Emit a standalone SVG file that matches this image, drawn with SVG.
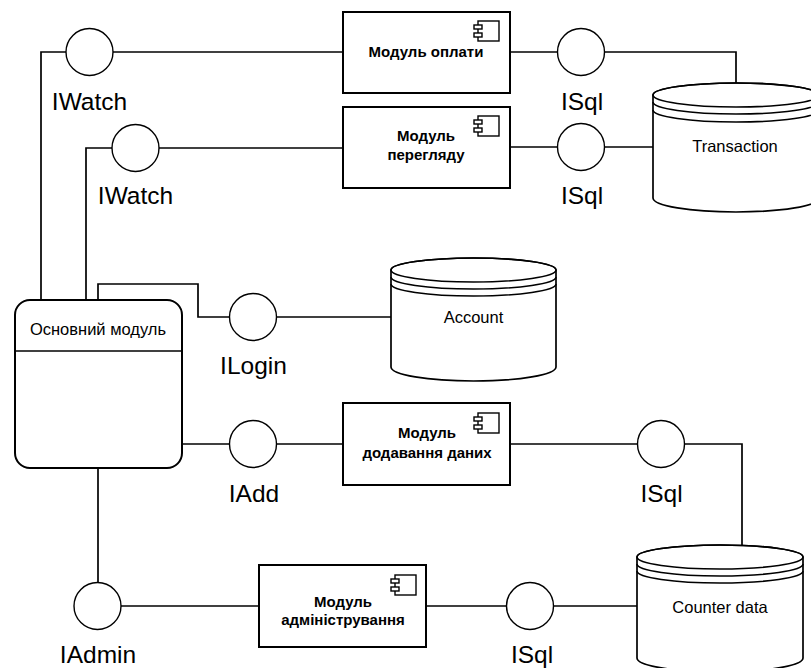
<svg xmlns="http://www.w3.org/2000/svg" width="811" height="668" viewBox="0 0 811 668">
<defs>
<style>
.ln{fill:none;stroke:#000;stroke-width:1.7}
.ci{fill:#fff;stroke:#000;stroke-width:1.4}
.box{fill:#fff;stroke:#000;stroke-width:2}
.cyl{fill:#fff;stroke:#000;stroke-width:1.7}
.arc{fill:none;stroke:#000;stroke-width:1.6}
.lbl{font-family:"Liberation Sans",Arial,sans-serif;font-size:24.5px;fill:#000;text-anchor:middle}
.bt{font-family:"Liberation Sans",Arial,sans-serif;font-size:15px;font-weight:bold;fill:#000;text-anchor:middle}
.nt{font-family:"Liberation Sans",Arial,sans-serif;font-size:16.5px;fill:#000;text-anchor:middle}
.ic{fill:#fff;stroke:#000;stroke-width:1.4}
</style>
<g id="icon">
<rect class="ic" x="4" y="0" width="21" height="20"/>
<rect class="ic" x="0" y="4" width="8" height="4"/>
<rect class="ic" x="0" y="12" width="8" height="4"/>
</g>
</defs>
<rect width="811" height="668" fill="#fff"/>

<g id="connectors">
<polyline class="ln" points="41,300 41,52 66,52"/>
<line class="ln" x1="113" y1="52" x2="343" y2="52"/>
<polyline class="ln" points="86,300 86,148 112,148"/>
<line class="ln" x1="159" y1="148" x2="343" y2="148"/>
<line class="ln" x1="510" y1="52" x2="558" y2="52"/>
<polyline class="ln" points="604,52 736,52 736,84"/>
<line class="ln" x1="510" y1="147" x2="558" y2="147"/>
<line class="ln" x1="604" y1="147" x2="653" y2="147"/>
<polyline class="ln" points="98,300 98,284 198,284 198,317 230,317"/>
<line class="ln" x1="276" y1="317" x2="391" y2="317"/>
<line class="ln" x1="182" y1="444" x2="230" y2="444"/>
<line class="ln" x1="276" y1="444" x2="343" y2="444"/>
<line class="ln" x1="510" y1="444" x2="638" y2="444"/>
<polyline class="ln" points="684,444 742,444 742,546"/>
<line class="ln" x1="98" y1="468" x2="98" y2="583"/>
<line class="ln" x1="121" y1="606" x2="259" y2="606"/>
<line class="ln" x1="426" y1="606" x2="507" y2="606"/>
<line class="ln" x1="553" y1="606" x2="637" y2="606"/>
</g>

<g id="main-module">
<rect class="box" x="15" y="300" width="167" height="168" rx="15" ry="15"/>
<line class="ln" x1="15" y1="351" x2="182" y2="351" stroke-width="2"/>
<text class="nt" x="98" y="335">Основний модуль</text>
</g>

<g id="iwatch1">
<circle class="ci" cx="89.5" cy="52" r="23.5"/>
<text class="lbl" x="89.5" y="110">IWatch</text>
</g>
<g id="iwatch2">
<circle class="ci" cx="135.5" cy="148" r="23.5"/>
<text class="lbl" x="135.5" y="204">IWatch</text>
</g>
<g id="isql1">
<circle class="ci" cx="581" cy="52" r="23.5"/>
<text class="lbl" x="582" y="110">ISql</text>
</g>
<g id="isql2">
<circle class="ci" cx="581" cy="147" r="23.5"/>
<text class="lbl" x="582" y="204">ISql</text>
</g>
<g id="ilogin">
<circle class="ci" cx="253" cy="317" r="23.5"/>
<text class="lbl" x="253.5" y="374">ILogin</text>
</g>
<g id="iadd">
<circle class="ci" cx="253" cy="444" r="23.5"/>
<text class="lbl" x="254" y="502">IAdd</text>
</g>
<g id="isql3">
<circle class="ci" cx="661" cy="444" r="23.5"/>
<text class="lbl" x="661.5" y="502">ISql</text>
</g>
<g id="iadmin">
<circle class="ci" cx="97.5" cy="606" r="23.5"/>
<text class="lbl" x="98" y="663">IAdmin</text>
</g>
<g id="isql4">
<circle class="ci" cx="530" cy="606" r="23.5"/>
<text class="lbl" x="532" y="663">ISql</text>
</g>

<g id="payment-module">
<rect class="box" x="343" y="12" width="167" height="81"/>
<use href="#icon" x="474" y="21"/>
<text class="bt" x="426" y="57">Модуль оплати</text>
</g>
<g id="view-module">
<rect class="box" x="343" y="107" width="167" height="81"/>
<use href="#icon" x="474" y="116"/>
<text class="bt" x="426" y="141">Модуль</text>
<text class="bt" x="426" y="160">перегляду</text>
</g>
<g id="add-module">
<rect class="box" x="343" y="403" width="167" height="82"/>
<use href="#icon" x="474" y="413"/>
<text class="bt" x="427" y="438">Модуль</text>
<text class="bt" x="427" y="458">додавання даних</text>
</g>
<g id="admin-module">
<rect class="box" x="259" y="565" width="167" height="82"/>
<use href="#icon" x="391" y="575"/>
<text class="bt" x="343" y="607">Модуль</text>
<text class="bt" x="343" y="625">адміністрування</text>
</g>

<g id="transaction">
<path class="cyl" d="M653,95 L653,198 A83,14 0 0 0 819,198 L819,95 A83,12 0 0 0 653,95 Z"/>
<ellipse class="arc" cx="736" cy="95" rx="83" ry="12"/>
<path class="arc" d="M653,102 A83,12 0 0 0 819,102"/>
<path class="arc" d="M653,110 A83,12 0 0 0 819,110"/>
<text class="nt" x="735" y="152">Transaction</text>
</g>
<g id="account">
<path class="cyl" d="M391,270 L391,367 A82.5,14 0 0 0 556,367 L556,270 A82.5,12 0 0 0 391,270 Z"/>
<ellipse class="arc" cx="473.5" cy="270" rx="82.5" ry="12"/>
<path class="arc" d="M391,277 A82.5,12 0 0 0 556,277"/>
<path class="arc" d="M391,284 A82.5,12 0 0 0 556,284"/>
<text class="nt" x="473.5" y="323">Account</text>
</g>
<g id="counter-data">
<path class="cyl" d="M637,557 L637,658 A83,14 0 0 0 803,658 L803,557 A83,12 0 0 0 637,557 Z"/>
<ellipse class="arc" cx="720" cy="557" rx="83" ry="12"/>
<path class="arc" d="M637,564 A83,12 0 0 0 803,564"/>
<path class="arc" d="M637,571 A83,12 0 0 0 803,571"/>
<text class="nt" x="720" y="613">Counter data</text>
</g>
</svg>
